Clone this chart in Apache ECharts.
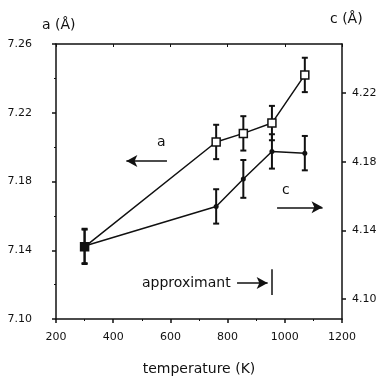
<!DOCTYPE html>
<html style="height: 100%">
<head>
<meta charset="utf-8">
<script src="https://cdn.jsdelivr.net/npm/echarts@6/dist/echarts.min.js"></script>
</head>
<body style="height: 100%; margin: 0; background: #fff">
<div id="container" style="width: 379px; height: 378px"></div>
<script type="text/javascript">
// temperature (K) of each measurement
var temperature = [300, 760, 855, 955, 1070];
// lattice parameter a (left axis) and c (right axis), in angstrom
var aValues = [7.142, 7.203, 7.208, 7.214, 7.242];
var aErrors = [0.010, 0.010, 0.010, 0.010, 0.010];
var cValues = [4.131, 4.154, 4.170, 4.186, 4.185];
var cErrors = [0.010, 0.010, 0.011, 0.010, 0.010];
var cTicks = [4.10, 4.14, 4.18, 4.22];
// annotation arrows, in (temperature, a) coordinates
var arrowA = [[588, 7.192], [446, 7.192]];
var arrowC = [[973, 7.165], [1132, 7.165]];
var arrowApprox = [[833, 7.121], [940, 7.121]];
var approxBar = [[956, 7.129], [956, 7.114]];

var font = 'DejaVu Sans';
var dom = document.getElementById('container');
var myChart = echarts.init(dom);

function errorBars(values, errors) {
	return temperature.map(function (t, i) {
		return [t, values[i] - errors[i], values[i] + errors[i]];
	});
}

function renderError(params, api) {
	var lo = api.coord([api.value(0), api.value(1)]);
	var hi = api.coord([api.value(0), api.value(2)]);
	var w = 3;
	var st = { stroke: '#111', lineWidth: 2 };
	return {
		type: 'group',
		children: [
			{ type: 'line', shape: { x1: lo[0], y1: lo[1], x2: hi[0], y2: hi[1] }, style: st },
			{ type: 'line', shape: { x1: lo[0] - w, y1: lo[1], x2: lo[0] + w, y2: lo[1] }, style: st },
			{ type: 'line', shape: { x1: hi[0] - w, y1: hi[1], x2: hi[0] + w, y2: hi[1] }, style: st }
		]
	};
}

var aData = temperature.map(function (t, i) {
	var item = { value: [t, aValues[i]] };
	if (i === 0) item.itemStyle = { color: '#111' };
	return item;
});
var cData = temperature.map(function (t, i) {
	var item = { value: [t, cValues[i]] };
	if (i === 0) item.symbol = 'none';
	return item;
});

var tickLabel = { fontFamily: font, fontSize: 11, color: '#111' };
var axisLine = { lineStyle: { color: '#111', width: 1.5 } };

var option = {
	animation: false,
	grid: { left: 56, right: 37, top: 44, bottom: 59, outerBoundsMode: 'none' },
	xAxis: [{
		type: 'value', min: 200, max: 1200, interval: 200,
		name: 'temperature (K)', nameLocation: 'middle', nameGap: 43,
		nameTextStyle: { fontFamily: font, fontSize: 14, color: '#111' },
		axisLine: axisLine,
		axisTick: { length: 4, lineStyle: { color: '#111', width: 1.5 } },
		minorTick: { show: true, splitNumber: 2, length: 2, lineStyle: { color: '#111' } },
		axisLabel: Object.assign({ margin: 13, formatter: function (v) { return String(v); } }, tickLabel),
		splitLine: { show: false }
	}, {
		type: 'value', min: 200, max: 1200, interval: 200, position: 'top',
		axisLine: axisLine,
		axisTick: { inside: true, length: 3, lineStyle: { color: '#111' } },
		axisLabel: { show: false },
		splitLine: { show: false }
	}],
	yAxis: [{
		type: 'value', min: 7.10, max: 7.26, interval: 0.04,
		axisLine: Object.assign({ show: true }, axisLine),
		axisTick: { show: true, length: 4, lineStyle: { color: '#111', width: 1.5 } },
		minorTick: { show: true, splitNumber: 2, length: 2, lineStyle: { color: '#111' } },
		axisLabel: Object.assign({ margin: 24, formatter: function (v) { return v.toFixed(2); } }, tickLabel),
		splitLine: { show: false }
	}, {
		type: 'value', min: 4.0885, max: 4.2485, position: 'right',
		axisLine: Object.assign({ show: true }, axisLine),
		axisTick: { show: true, length: 4, customValues: cTicks, lineStyle: { color: '#111', width: 1.5 } },
		axisLabel: Object.assign({ margin: 10, customValues: cTicks, formatter: function (v) { return v.toFixed(2); } }, tickLabel),
		splitLine: { show: false }
	}],
	graphic: [
		{ type: 'text', left: 42, top: 18, style: { text: 'a (Å)', font: '14px ' + font, fill: '#111' } },
		{ type: 'text', left: 330, top: 12, style: { text: 'c (Å)', font: '14px ' + font, fill: '#111' } },
		{ type: 'text', left: 157, top: 135, style: { text: 'a', font: '14px ' + font, fill: '#111' } },
		{ type: 'text', left: 282, top: 183, style: { text: 'c', font: '14px ' + font, fill: '#111' } },
		{ type: 'text', left: 142, top: 276, style: { text: 'approximant', font: '14px ' + font, fill: '#111' } }
	],
	series: [{
		name: 'a',
		type: 'line',
		data: aData,
		symbol: 'rect',
		symbolSize: 8,
		itemStyle: { color: '#fff', borderColor: '#111', borderWidth: 1.5 },
		lineStyle: { color: '#111', width: 1.5 },
		z: 3,
		markLine: {
			silent: true,
			symbol: ['none', 'arrow'],
			symbolSize: [9, 11],
			label: { show: false },
			lineStyle: { color: '#111', width: 1.5, type: 'solid' },
			data: [
				[{ coord: arrowA[0] }, { coord: arrowA[1] }],
				[{ coord: arrowC[0] }, { coord: arrowC[1] }],
				[{ coord: arrowApprox[0] }, { coord: arrowApprox[1] }],
				[{ coord: approxBar[0], symbol: 'none' }, { coord: approxBar[1], symbol: 'none' }]
			]
		}
	}, {
		name: 'c',
		type: 'line',
		yAxisIndex: 1,
		data: cData,
		symbol: 'circle',
		symbolSize: 5,
		itemStyle: { color: '#111' },
		lineStyle: { color: '#111', width: 1.5 },
		z: 3
	}, {
		type: 'custom',
		renderItem: renderError,
		data: errorBars(aValues, aErrors),
		encode: { x: 0, y: [1, 2] },
		z: 2
	}, {
		type: 'custom',
		yAxisIndex: 1,
		renderItem: renderError,
		data: errorBars(cValues, cErrors),
		encode: { x: 0, y: [1, 2] },
		z: 2
	}]
};
myChart.setOption(option);
</script>
</body>
</html>
